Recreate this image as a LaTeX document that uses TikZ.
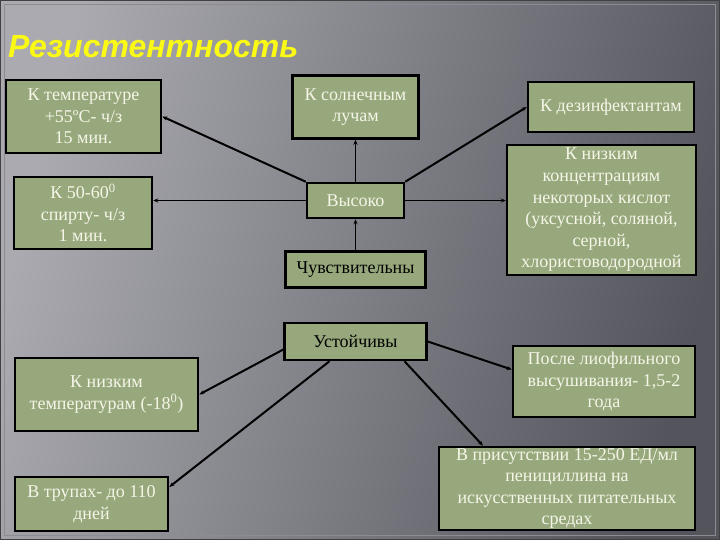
\documentclass[tikz,border=0pt]{standalone}
\usepackage{fontspec}
\setmainfont{Liberation Serif}
\newfontfamily\titlefont{Liberation Sans}
\usetikzlibrary{arrows.meta,positioning,calc}
\definecolor{resBgLight}{RGB}{170,170,176}
\definecolor{resBgMid}{RGB}{118,118,126}
\definecolor{resBgDark}{RGB}{84,84,93}
\definecolor{resGreen}{RGB}{151,169,124}
\definecolor{resText}{RGB}{245,245,232}
\definecolor{resYellow}{RGB}{250,250,20}
\definecolor{resFrame}{RGB}{140,140,146}

\begin{document}
\begin{tikzpicture}[x=1pt, y=-1pt, >={Stealth[length=5pt,width=4pt]}, font=\fontsize{18}{21.6}\selectfont]
\tikzstyle{box}=[draw=black, line width=2.5pt, fill=resGreen, text=resText, align=center, inner sep=2pt]
\tikzstyle{darkbox}=[box, text=black]
\tikzstyle{link}=[->, line width=2pt, black]
\tikzstyle{thinlink}=[->, line width=1pt, black]
\tikzstyle{titletext}=[anchor=base west, inner sep=0pt, font=\titlefont\bfseries\itshape\fontsize{32}{38}\selectfont]

% background and frame
\useasboundingbox (0,0) rectangle (720,540);
\shade[top color=resBgLight, middle color=resBgMid, bottom color=resBgDark, shading angle=75] (0,0) rectangle (720,540);
\draw[resFrame, line width=0.8pt] (4,4) rectangle (715,535);
\draw[black!75, line width=1pt] (0.5,0.5) rectangle (719.5,539.5);

% title
\node[titletext, text=resYellow] (title) at (8,58) {Резистентность};

% centre column
\node[box, minimum width=97pt, minimum height=35pt] (high) at (355.5,200.5) {Высоко};
\node[box, above=42pt of high, minimum width=126pt, minimum height=63pt] (sun) {К солнечным\\лучам};
\node[darkbox, below=31pt of high, minimum width=140pt, minimum height=36pt] (sens) {Чувствительны};
\node[darkbox, below=33pt of sens, minimum width=142pt, minimum height=37pt] (stable) {Устойчивы};

% left side
\node[box, minimum width=155pt, minimum height=73pt] (temp55) at (83.5,116.5) {К температуре\\+55ºC- ч/з\\15 мин.};
\node[box, minimum width=138pt, minimum height=72pt] (alc) at (83,213) {К 50-60\textsuperscript{0}\\спирту- ч/з\\1 мин.};
\node[box, minimum width=183pt, minimum height=73pt] (cold) at (106.5,394.5) {К низким\\температурам (-18\textsuperscript{0})};
\node[box, minimum width=153pt, minimum height=54pt] (corpse) at (91.5,504) {В трупах- до 110\\дней};

% right side
\node[box, minimum width=166pt, minimum height=50pt] (disinf) at (611,107) {К дезинфектантам};
\node[box, minimum width=189pt, minimum height=130pt, inner ysep=0pt] (acid) at (601.5,210) {К низким\\концентрациям\\некоторых кислот\\(уксусной, соляной,\\серной,\\хлористоводородной};
\node[box, minimum width=182pt, minimum height=71pt] (lyo) at (604,381.5) {После лиофильного\\высушивания- 1,5-2\\года};
\node[box, minimum width=256pt, minimum height=83pt, inner ysep=0pt] (pen) at (567,488.5) {В присутствии 15-250 ЕД/мл\\пенициллина на\\искусственных питательных\\средах};

% connectors
\draw[link] (high.north west) -- (temp55.east);
\draw[thinlink] (high.north) -- (sun.south);
\draw[link] (high.north east) -- (disinf.west);
\draw[thinlink] (high.east) -- (high.east -| acid.west);
\draw[thinlink] (high.west) -- (high.west -| alc.east);
\draw[thinlink] (sens.north) -- (high.south);
\draw[link] ([yshift=-8pt]stable.west) -- (cold.east);
\draw[link] ([xshift=-26pt]stable.south) -- ([yshift=17pt]corpse.east);
\draw[link] (stable.east) -- ([yshift=12pt]lyo.west);
\draw[link] ([xshift=49pt]stable.south) -- ([xshift=-84pt]pen.north);
\end{tikzpicture}
\end{document}
